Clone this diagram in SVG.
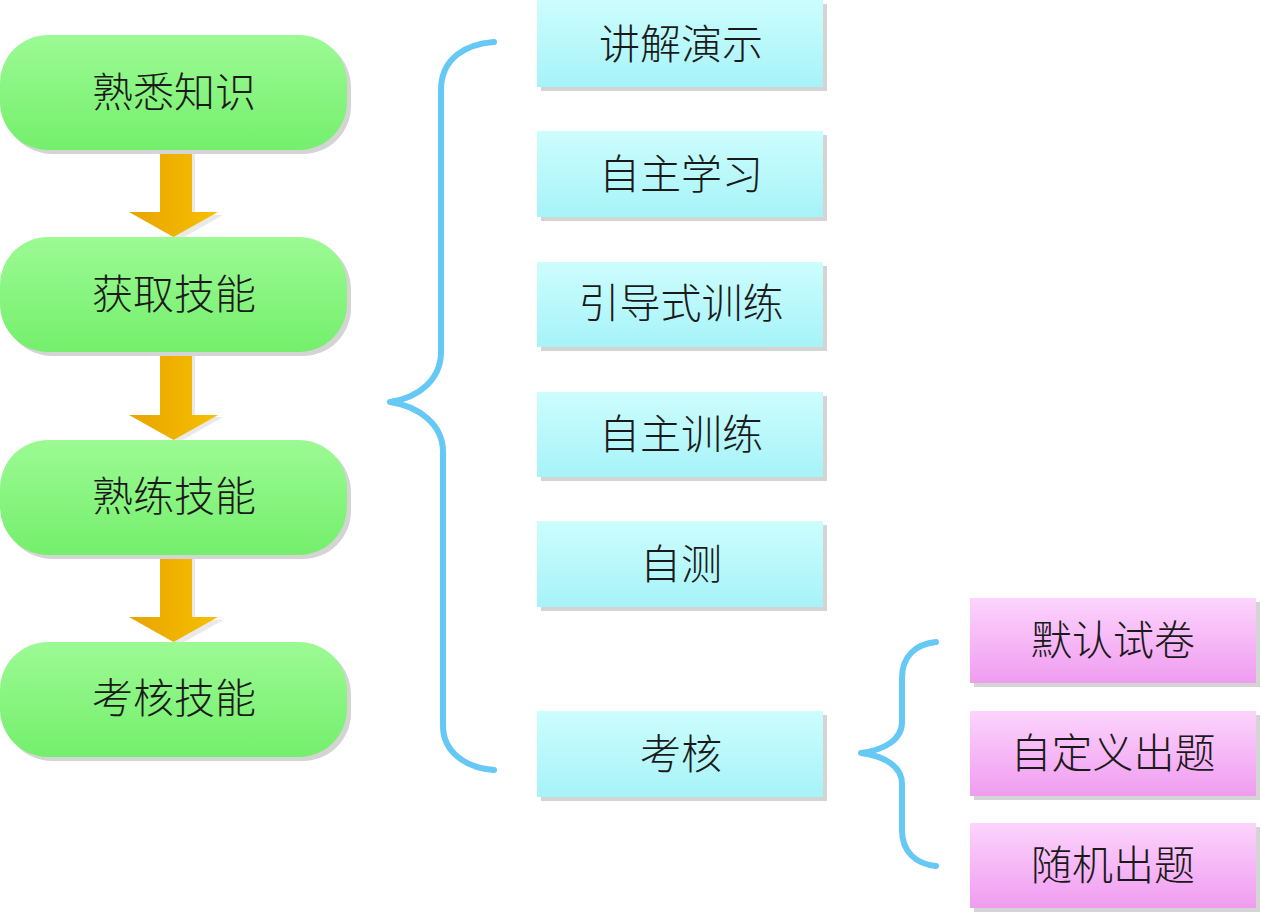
<svg xmlns="http://www.w3.org/2000/svg" width="1261" height="915" viewBox="0 0 1261 915">
<defs>
<linearGradient id="gGreen" x1="0" y1="0" x2="0" y2="1"><stop offset="0" stop-color="#9cfa94"/><stop offset="1" stop-color="#74ef6c"/></linearGradient>
<linearGradient id="gCyan" x1="0" y1="0" x2="0" y2="1"><stop offset="0" stop-color="#cdfdfd"/><stop offset="1" stop-color="#a6f3f8"/></linearGradient>
<linearGradient id="gPink" x1="0" y1="0" x2="0" y2="1"><stop offset="0" stop-color="#fcd4fc"/><stop offset="1" stop-color="#f09cf0"/></linearGradient>
<linearGradient id="gArrow" x1="0" y1="0" x2="1" y2="0"><stop offset="0" stop-color="#e8a400"/><stop offset="1" stop-color="#f6c000"/></linearGradient>
</defs>
<style>
text{font-family:"Noto Sans CJK SC","Liberation Serif",sans-serif;font-size:41px;font-weight:300;fill:#1a1a1a;text-anchor:middle;dominant-baseline:central}
.shadow{fill:#d4d4d4}
.green{fill:url(#gGreen)}
.cyan{fill:url(#gCyan)}
.pink{fill:url(#gPink)}
.arrow{fill:url(#gArrow)}
.brace{fill:none;stroke:#66c8f4;stroke-width:6;stroke-linecap:round;stroke-linejoin:round}
</style>
<rect width="1261" height="915" fill="#ffffff"/>

<g id="connectors">
<path class="shadow" d="M163,150 h32 v65 h28 l-44,25 l-44,-25 h28 z" opacity="0.5"/>
<path class="arrow" d="M160,150 h32 v62 h26 l-44.5,25 l-44.5,-25 h31 z"/>
<path class="shadow" d="M163,352 h32 v65 h28 l-44,25 l-44,-25 h28 z" opacity="0.5"/>
<path class="arrow" d="M160,352 h32 v63 h26 l-44.5,25 l-44.5,-25 h31 z"/>
<path class="shadow" d="M163,555 h32 v65 h28 l-44,25 l-44,-25 h28 z" opacity="0.5"/>
<path class="arrow" d="M160,555 h32 v62 h26 l-44.5,25 l-44.5,-25 h31 z"/>
<path class="brace" d="M494,42 C466,44 441,58 441,90 L441,352 C441,380 418,398 390,402 C418,406 443,424 443,452 L443,726 C443,752 466,768 494,770"/>
<path class="brace" d="M936,642 C916,644 902,656 902,678 L902,722 C902,740 884,750 861,753 C884,756 902,766 902,784 L902,830 C902,852 916,864 936,866"/>
</g>

<g id="n-shuxi-zhishi"><rect class="shadow" x="4" y="39" width="347" height="115" rx="48"/><rect class="green" x="0" y="35" width="347" height="115" rx="48"/><text x="174" y="89">熟悉知识</text></g>
<g id="n-huoqu-jineng"><rect class="shadow" x="4" y="241" width="347" height="115" rx="48"/><rect class="green" x="0" y="237" width="347" height="115" rx="48"/><text x="174" y="291">获取技能</text></g>
<g id="n-shulian-jineng"><rect class="shadow" x="4" y="444" width="347" height="115" rx="48"/><rect class="green" x="0" y="440" width="347" height="115" rx="48"/><text x="174" y="493">熟练技能</text></g>
<g id="n-kaohe-jineng"><rect class="shadow" x="4" y="646" width="347" height="115" rx="48"/><rect class="green" x="0" y="642" width="347" height="115" rx="48"/><text x="174" y="695">考核技能</text></g>

<g id="n-jiangjie"><rect class="shadow" x="541" y="4" width="286" height="87"/><rect class="cyan" x="537" y="0" width="286" height="87"/><text x="681" y="41">讲解演示</text></g>
<g id="n-zizhu-xuexi"><rect class="shadow" x="541" y="135" width="286" height="86"/><rect class="cyan" x="537" y="131" width="286" height="86"/><text x="681" y="171">自主学习</text></g>
<g id="n-yindao"><rect class="shadow" x="541" y="266" width="286" height="85"/><rect class="cyan" x="537" y="262" width="286" height="85"/><text x="681" y="300">引导式训练</text></g>
<g id="n-zizhu-xunlian"><rect class="shadow" x="541" y="396" width="286" height="85"/><rect class="cyan" x="537" y="392" width="286" height="85"/><text x="681" y="431">自主训练</text></g>
<g id="n-zice"><rect class="shadow" x="541" y="525" width="286" height="86"/><rect class="cyan" x="537" y="521" width="286" height="86"/><text x="681" y="561">自测</text></g>
<g id="n-kaohe"><rect class="shadow" x="541" y="715" width="286" height="86"/><rect class="cyan" x="537" y="711" width="286" height="86"/><text x="681" y="751">考核</text></g>

<g id="n-moren"><rect class="shadow" x="974" y="602" width="286" height="85"/><rect class="pink" x="970" y="598" width="286" height="85"/><text x="1113" y="637">默认试卷</text></g>
<g id="n-zidingyi"><rect class="shadow" x="974" y="715" width="286" height="85"/><rect class="pink" x="970" y="711" width="286" height="85"/><text x="1113" y="750">自定义出题</text></g>
<g id="n-suiji"><rect class="shadow" x="974" y="827" width="286" height="85"/><rect class="pink" x="970" y="823" width="286" height="85"/><text x="1113" y="862">随机出题</text></g>
</svg>
